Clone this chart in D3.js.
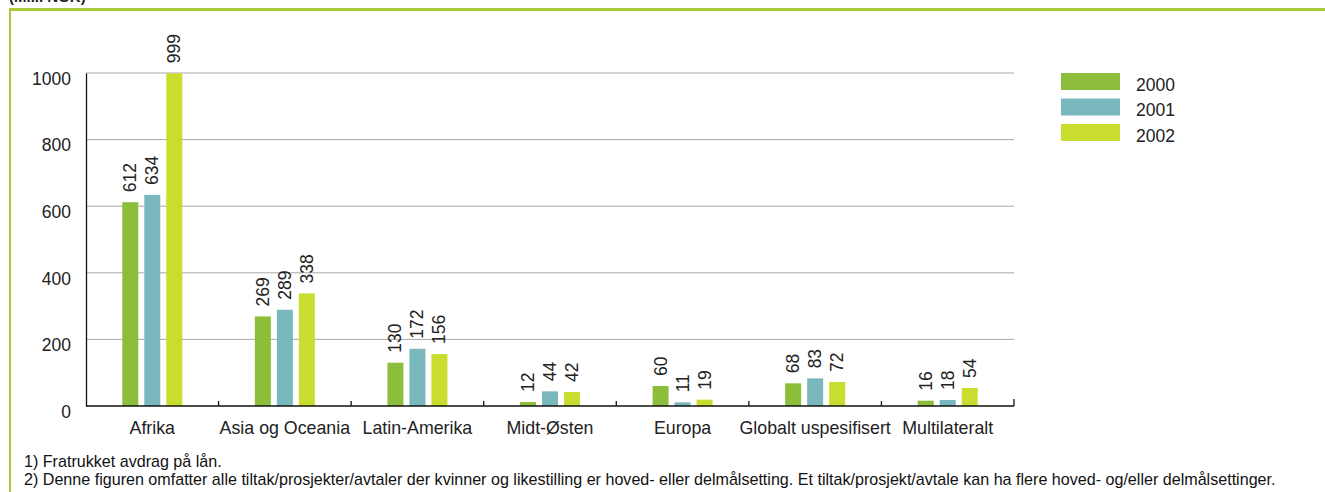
<!DOCTYPE html>
<html>
<head>
<meta charset="utf-8">
<script src="https://cdn.jsdelivr.net/npm/d3@7"></script>
<style>
  html, body { margin: 0; padding: 0; background: #fff; }
  svg { display: block; font-family: "Liberation Sans", Arial, Helvetica, sans-serif; }
</style>
</head>
<body>
<svg id="chart" width="1325" height="492"></svg>
<script>
// Regions (x categories)
const categories = ["Afrika", "Asia og Oceania", "Latin-Amerika", "Midt-Østen", "Europa", "Globalt uspesifisert", "Multilateralt"];
// Series, one per year (Mill. NOK)
const seriesNames = ["2000", "2001", "2002"];
const values2000 = [612, 269, 130, 12, 60, 68, 16];
const values2001 = [634, 289, 172, 44, 11, 83, 18];
const values2002 = [999, 338, 156, 42, 19, 72, 54];
const yTicks = [0, 200, 400, 600, 800, 1000];
const footnotes = [
  "1) Fratrukket avdrag på lån.",
  "2) Denne figuren omfatter alle tiltak/prosjekter/avtaler der kvinner og likestilling er hoved- eller delmålsetting. Et tiltak/prosjekt/avtale kan ha flere hoved- og/eller delmålsettinger."
];

const seriesValues = [values2000, values2001, values2002];
const colors = ["#8cbe3c", "#79b9bd", "#c8dd2e"];
const frameColor = "#a9c93b";

const svg = d3.select("#chart");

// Frame: heading (its upper part lies above the page), top rule and left rule
svg.append("text").attr("x", 9).attr("y", 2)
  .attr("font-size", 15).attr("font-weight", "bold").attr("fill", "#222")
  .text("(Mill. NOK)");
svg.append("rect").attr("x", 9).attr("y", 8).attr("width", 1316).attr("height", 3).attr("fill", frameColor);
svg.append("rect").attr("x", 9).attr("y", 8).attr("width", 2).attr("height", 484).attr("fill", frameColor);

const plot = { left: 86, right: 1014, top: 73, bottom: 406 };

const x = d3.scaleBand().domain(categories).range([plot.left, plot.right]).padding(0);
const y = d3.scaleLinear().domain([0, 1000]).range([plot.bottom, plot.top]);

const barW = 16, barStep = 22;

// Horizontal gridlines
svg.append("g").selectAll("line").data(yTicks.filter(d => d > 0)).join("line")
  .attr("x1", plot.left).attr("x2", plot.right)
  .attr("y1", d => y(d)).attr("y2", d => y(d))
  .attr("stroke", "#a8a8a8").attr("stroke-width", 1);

// Y axis
const yAxis = svg.append("g").attr("transform", `translate(${plot.left},0)`)
  .call(d3.axisLeft(y).tickValues(yTicks).tickFormat(d3.format("d")).tickSize(0).tickPadding(15));
yAxis.select(".domain").attr("stroke", "#111").attr("stroke-width", 1.3);
yAxis.selectAll("text").attr("font-size", 17.5).attr("fill", "#222")
  .attr("font-family", "Liberation Sans, Arial, sans-serif").attr("dy", "0.65em");

// Bars with rotated value labels
categories.forEach((c, i) => {
  const cx = x(c) + x.bandwidth() / 2;
  seriesValues.forEach((vals, s) => {
    const bx = cx - barW / 2 + (s - 1) * barStep;
    svg.append("rect")
      .attr("x", bx).attr("y", y(vals[i]))
      .attr("width", barW).attr("height", y(0) - y(vals[i]))
      .attr("fill", colors[s]);
    svg.append("text")
      .attr("transform", `translate(${bx + barW / 2 + 6},${y(vals[i]) - 10}) rotate(-90)`)
      .attr("font-size", 17.5).attr("fill", "#222")
      .text(vals[i]);
  });
});

// X axis with upward ticks at category boundaries
const xAxisG = svg.append("g");
xAxisG.append("line")
  .attr("x1", plot.left).attr("x2", plot.right)
  .attr("y1", plot.bottom).attr("y2", plot.bottom)
  .attr("stroke", "#111").attr("stroke-width", 1.3);
const bounds = categories.map(c => x(c)).concat([plot.right]);
xAxisG.selectAll("line.tick").data(bounds.slice(1)).join("line")
  .attr("class", "tick")
  .attr("x1", d => d).attr("x2", d => d)
  .attr("y1", plot.bottom).attr("y2", (d, i) => plot.bottom - (i === bounds.length - 2 ? 7 : 5))
  .attr("stroke", "#111").attr("stroke-width", 1.3);
xAxisG.selectAll("text").data(categories).join("text")
  .attr("x", c => x(c) + x.bandwidth() / 2).attr("y", 434)
  .attr("text-anchor", "middle").attr("font-size", 17.8).attr("fill", "#222")
  .text(c => c);

// Legend
const legend = svg.append("g");
seriesNames.forEach((name, s) => {
  legend.append("rect").attr("x", 1061).attr("y", 73 + s * 25.5)
    .attr("width", 59).attr("height", 17).attr("fill", colors[s]);
  legend.append("text").attr("x", 1136).attr("y", 90.5 + s * 25.5)
    .attr("font-size", 17.5).attr("fill", "#222").text(name);
});

// Footnotes
svg.append("g").selectAll("text").data(footnotes).join("text")
  .attr("x", 24).attr("y", (d, i) => 467 + i * 18)
  .attr("font-size", 16.1).attr("fill", "#111")
  .text(d => d);
</script>
</body>
</html>
